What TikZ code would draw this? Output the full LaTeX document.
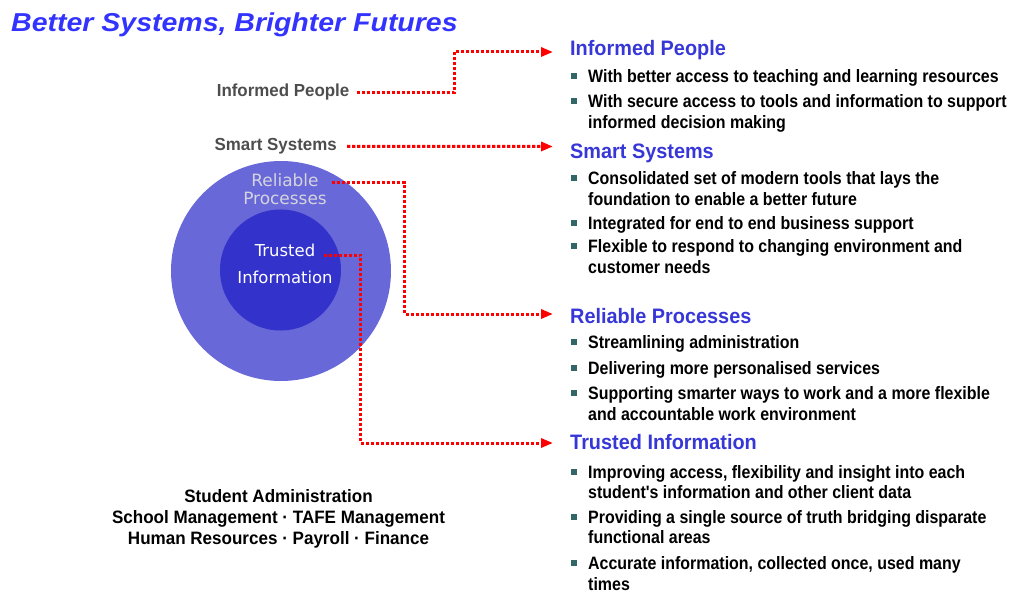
\documentclass[tikz,border=0pt]{standalone}
\usepackage{fontspec}
\setmainfont{Liberation Sans}
\newfontfamily\titlefont{Liberation Sans}[FakeStretch=1.1]
\newfontfamily\headfont{Liberation Sans}[FakeStretch=0.95]
\newfontfamily\bodyfont{Liberation Sans}[FakeStretch=0.89]
\newfontfamily\sidefont{Liberation Sans}[FakeStretch=0.97]
\newfontfamily\footfont{Liberation Sans}[FakeStretch=0.95]
\newfontfamily\ringfont{DejaVu Sans}
\usetikzlibrary{arrows.meta}

\definecolor{titleblue}{RGB}{51,51,255}
\definecolor{headblue}{RGB}{55,55,215}
\definecolor{sidegray}{RGB}{77,77,77}
\definecolor{bulletteal}{RGB}{51,102,102}
\definecolor{ringouter}{RGB}{104,104,216}
\definecolor{ringinner}{RGB}{51,51,204}
\definecolor{ringtext}{RGB}{212,212,222}
\definecolor{linkred}{RGB}{255,0,0}

% two lines of one bullet; the box sits on the baseline of its first line
\newcommand\twolines[2]{\vtop{\baselineskip=20.6bp\hbox{#1}\hbox{#2}}}

\begin{document}
\begin{tikzpicture}[x=1bp,y=-1bp,
  titletext/.style={anchor=base west, inner sep=0, text=titleblue,
    font=\titlefont\fontsize{26}{30}\selectfont\bfseries\itshape},
  head/.style={anchor=base west, inner sep=0, text=headblue,
    font=\headfont\fontsize{21}{24}\selectfont\bfseries},
  item/.style={anchor=base west, inner sep=0,
    font=\bodyfont\fontsize{18}{20.6}\selectfont\bfseries},
  bulletsq/.style={fill=bulletteal, minimum size=6bp, inner sep=0, draw=none},
  side/.style={anchor=base east, inner sep=0, text=sidegray,
    font=\sidefont\fontsize{17.5}{20}\selectfont\bfseries},
  ringlabel/.style={anchor=base, inner sep=0, font=\ringfont\fontsize{17}{20}\selectfont},
  foot/.style={anchor=north, inner sep=0, align=center,
    font=\footfont\fontsize{18}{21}\selectfont\bfseries},
  link/.style={draw=linkred, line width=3bp, dash pattern=on 3.3bp off 1.7bp,
    -{Triangle[length=12bp,width=9bp]}}]

\useasboundingbox (0,0) rectangle (1018,595);

% heading
\node[titletext] (title) at (11,31.7) {Better Systems, Brighter Futures};

% the two rings
\node[circle, fill=ringouter, minimum size=220bp, inner sep=0] (outerRing) at (281,271) {};
\node[circle, fill=ringinner, minimum size=121bp, inner sep=0] (innerRing) at (280.5,270) {};

% labels on the left
\node[side] (ipL) at (349.5,97) {Informed People};
\node[side] (ssL) at (337,150.7) {Smart Systems};
\node[ringlabel, text=ringtext] (rpL1) at (285,186.3) {Reliable};
\node[ringlabel, text=ringtext] (rpL2) at (285,204.7) {Processes};
\node[ringlabel, text=white, font=\ringfont\fontsize{16.5}{20}\selectfont] (tiL1) at (285,256.7) {Trusted};
\node[ringlabel, text=white, font=\ringfont\fontsize{16.5}{20}\selectfont] (tiL2) at (285,284) {Information};

% systems covered
\node[foot] (apps) at (278.5,489.2) {Student Administration\\School Management · TAFE Management\\Human Resources · Payroll · Finance};

% right column: Informed People
\node[head] (ipH) at (570,55.3) {Informed People};
\node[bulletsq] (ipB1) at (574,76.2) {};
\node[item] (ipT1) at (588,82.7) {With better access to teaching and learning resources};
\node[bulletsq] (ipB2) at (574,101.5) {};
\node[item] (ipT2) at (588,108) {\twolines{With secure access to tools and information to support}{informed decision making}};

% Smart Systems
\node[head] (ssH) at (570,158.3) {Smart Systems};
\node[bulletsq] (ssB1) at (574,178.2) {};
\node[item] (ssT1) at (588,184.7) {\twolines{Consolidated set of modern tools that lays the}{foundation to enable a better future}};
\node[bulletsq] (ssB2) at (574,223.2) {};
\node[item] (ssT2) at (588,229.7) {Integrated for end to end business support};
\node[bulletsq] (ssB3) at (574,246.5) {};
\node[item] (ssT3) at (588,253) {\twolines{Flexible to respond to changing environment and}{customer needs}};

% Reliable Processes
\node[head] (rpH) at (570,323.3) {Reliable Processes};
\node[bulletsq] (rpB1) at (574,341.5) {};
\node[item] (rpT1) at (588,348) {Streamlining administration};
\node[bulletsq] (rpB2) at (574,368.2) {};
\node[item] (rpT2) at (588,374.7) {Delivering more personalised services};
\node[bulletsq] (rpB3) at (574,393.2) {};
\node[item] (rpT3) at (588,399.7) {\twolines{Supporting smarter ways to work and a more flexible}{and accountable work environment}};

% Trusted Information
\node[head] (tiH) at (570,449) {Trusted Information};
\node[bulletsq] (tiB1) at (574,471.5) {};
\node[item] (tiT1) at (588,478) {\twolines{Improving access, flexibility and insight into each}{student's information and other client data}};
\node[bulletsq] (tiB2) at (574,516.5) {};
\node[item] (tiT2) at (588,523) {\twolines{Providing a single source of truth bridging disparate}{functional areas}};
\node[bulletsq] (tiB3) at (574,563.2) {};
\node[item] (tiT3) at (588,569.7) {\twolines{Accurate information, collected once, used many}{times}};

% arrow tips just left of each heading
\coordinate (ipTip) at (553,52);
\coordinate (ssTip) at (553,146.5);
\coordinate (rpTip) at (553,314);
\coordinate (tiTip) at (553,443);

% dotted red connectors
\draw[link] ([xshift=7bp]ipL.east) -- ++(98,0) |- (ipTip);
\draw[link] ([xshift=10bp]ssL.east) -- (ssTip);
\draw[link] ([shift={(13bp,-3bp)}]rpL1.east) -- ++(73,0) |- (rpTip);
\draw[link] ([shift={(8.5bp,-4.6bp)}]tiL1.east) -- ++(37,0) |- (tiTip);

\end{tikzpicture}
\end{document}
